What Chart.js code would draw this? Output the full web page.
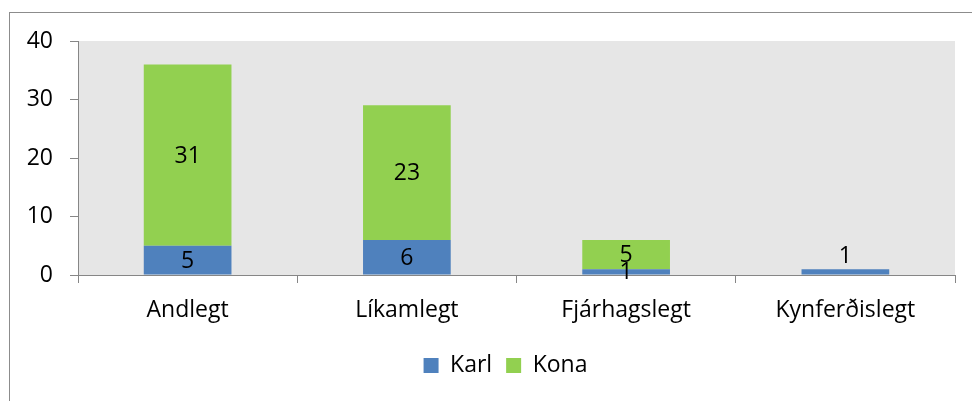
<!DOCTYPE html>
<html>
<head>
<meta charset="utf-8">
<script src="https://cdn.jsdelivr.net/npm/chart.js@4/dist/chart.umd.min.js"></script>
<style>
  html, body { margin: 0; padding: 0; background: #fff; overflow: hidden; }
  #frame { position: absolute; left: 9px; top: 12px; width: 1000px; height: 420px; border: 1px solid #8c8c8c; }
  #wrap { position: absolute; left: 0; top: 0; width: 972px; height: 401px; }
</style>
</head>
<body>
<div id="frame"></div>
<div id="wrap"><canvas id="chart" width="972" height="401"></canvas></div>
<script>
// data
const categories = ['Andlegt', 'Líkamlegt', 'Fjárhagslegt', 'Kynferðislegt'];
const karl = [5, 6, 1, 1];
const kona = [31, 23, 5, 0];
const yTicks = [0, 10, 20, 30, 40];

const FONT = '"Open Sans", sans-serif';

// grey plot area
const plotBackground = {
    id: 'plotBackground',
    beforeDraw(chart) {
        const { ctx, chartArea } = chart;
        ctx.save();
        ctx.fillStyle = '#e6e6e6';
        ctx.fillRect(chartArea.left, chartArea.top, chartArea.right - chartArea.left, chartArea.bottom - chartArea.top);
        ctx.restore();
    }
};

// legend sits a bit right of centre in the original
const legendShift = {
    id: 'legendShift',
    afterLayout(chart) {
        if (chart.legend) {
            chart.legend.left += 28;
            chart.legend.right += 28;
        }
    }
};

// value labels in the middle of each segment
const segmentLabels = {
    id: 'segmentLabels',
    afterDatasetsDraw(chart) {
        const ctx = chart.ctx;
        ctx.save();
        ctx.font = '23px ' + FONT;
        ctx.fillStyle = '#000';
        ctx.textAlign = 'center';
        ctx.textBaseline = 'middle';
        chart.data.datasets.forEach(function(ds, di) {
            const meta = chart.getDatasetMeta(di);
            meta.data.forEach(function(bar, i) {
                const v = ds.data[i];
                if (!v) return;
                const h = bar.base - bar.y;
                const above = chart.data.datasets.slice(di + 1).some(d => d.data[i]);
                let y = (bar.y + bar.base) / 2;
                if (h < 12 && !above) y = bar.y - 14;
                ctx.fillText(String(v), bar.x, y + 1);
            });
        });
        ctx.restore();
    }
};

new Chart(document.getElementById('chart'), {
    type: 'bar',
    data: {
        labels: categories,
        datasets: [
            { label: 'Karl', data: karl, backgroundColor: '#4f81bd', barPercentage: 0.4, categoryPercentage: 1 },
            { label: 'Kona', data: kona, backgroundColor: '#92d050', barPercentage: 0.4, categoryPercentage: 1 }
        ]
    },
    options: {
        responsive: false,
        animation: false,
        layout: { padding: { left: 0, right: 17, top: 41, bottom: 14 } },
        plugins: {
            tooltip: { enabled: false },
            legend: {
                position: 'bottom',
                labels: {
                    boxWidth: 15,
                    boxHeight: 15,
                    padding: 14,
                    color: '#000',
                    font: { family: FONT, size: 23 }
                }
            }
        },
        scales: {
            x: {
                stacked: true,
                grid: { drawOnChartArea: false, offset: true, tickLength: 8, color: '#868686' },
                border: { color: '#868686' },
                ticks: { color: '#000', padding: 14, font: { family: FONT, size: 23 } },
                afterFit(scale) { scale.height = 65; }
            },
            y: {
                stacked: true,
                min: 0,
                max: 40,
                afterBuildTicks(scale) { scale.ticks = yTicks.map(v => ({ value: v })); },
                grid: { drawOnChartArea: false, tickLength: 8, color: '#868686' },
                border: { color: '#868686' },
                ticks: { color: '#000', padding: 17, font: { family: FONT, size: 23 } },
                afterFit(scale) { scale.width = 78; }
            }
        }
    },
    plugins: [plotBackground, legendShift, segmentLabels]
});
</script>
</body>
</html>
